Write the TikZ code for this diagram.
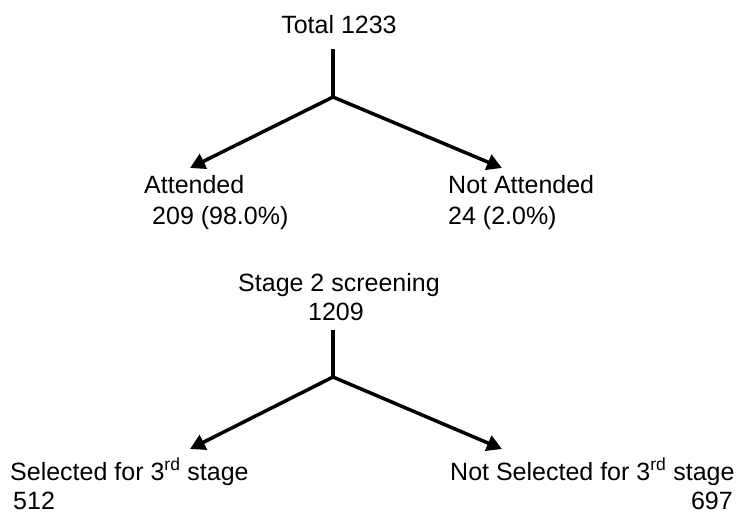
\documentclass[tikz,border=0pt]{standalone}
\usepackage{fontspec}
\setmainfont{Liberation Sans}
\usetikzlibrary{arrows.meta}
\begin{document}
\begin{tikzpicture}[x=1pt,y=-1pt,
  lbl/.style={inner sep=0pt,font=\fontsize{25}{30}\selectfont},
  conn/.style={line width=3.5pt},
  arr/.style={conn,-{Triangle[length=15pt,width=16pt]}}]
\useasboundingbox (0,0) rectangle (744,514);
\node[lbl,anchor=base] (total) at (339,33) {Total 1233};
\coordinate (s1) at (333,49);
\coordinate (j1) at (333,97);
\coordinate (t1) at (190,168);
\coordinate (t2) at (502,168);
\node[lbl,anchor=base west] (att) at (144,193) {Attended};
\node[lbl,anchor=base west] (attn) at (152,224) {209 (98.0\%)};
\node[lbl,anchor=base west] (natt) at (448,193) {Not Attended};
\node[lbl,anchor=base west] (nattn) at (448,224) {24 (2.0\%)};
\draw[conn] (s1) -- (j1);
\draw[arr] (j1) -- (t1);
\draw[arr] (j1) -- (t2);
\node[lbl,anchor=base] (s2) at (339,291) {Stage 2 screening};
\node[lbl,anchor=base] (s2n) at (336,320) {1209};
\coordinate (s2c) at (333,330);
\coordinate (j2) at (333,377);
\coordinate (t3) at (190,449);
\coordinate (t4) at (502,449);
\draw[conn] (s2c) -- (j2);
\draw[arr] (j2) -- (t3);
\draw[arr] (j2) -- (t4);
\node[lbl,anchor=base west] (sel) at (10,480) {Selected for 3\textsuperscript{rd} stage};
\node[lbl,anchor=base west] (seln) at (13,509) {512};
\node[lbl,anchor=base west] (nsel) at (450,480) {Not Selected for 3\textsuperscript{rd} stage};
\node[lbl,anchor=base east] (nseln) at (733,509) {697};
\end{tikzpicture}
\end{document}
